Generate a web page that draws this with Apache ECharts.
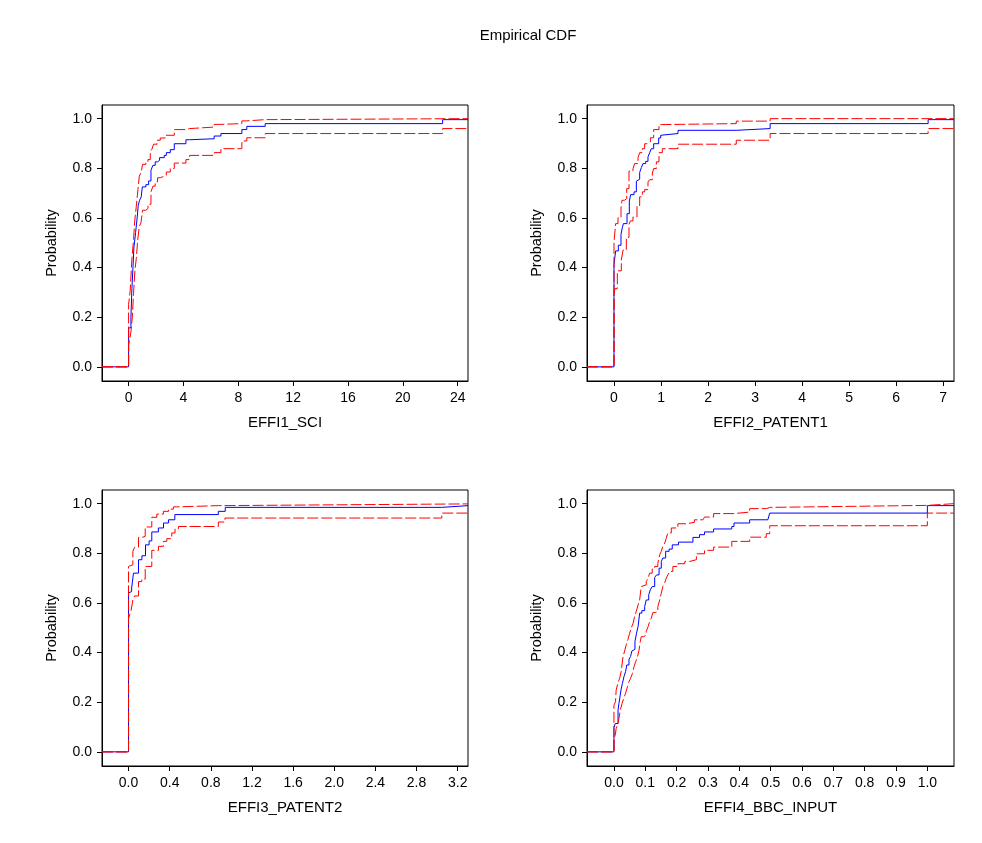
<!DOCTYPE html>
<html><head><meta charset="utf-8">
<script src="https://cdn.jsdelivr.net/npm/echarts@6/dist/echarts.min.js"></script>
<style>html,body{margin:0;padding:0;background:#fff}#c{width:982px;height:843px}</style>
</head><body><div id="c"></div>
<script>
const chartTitle = 'Empirical CDF';
const panelNames = ['EFFI1_SCI', 'EFFI2_PATENT1', 'EFFI3_PATENT2', 'EFFI4_BBC_INPUT'];
const yName = 'Probability';
const yTicks = [0, 0.2, 0.4, 0.6, 0.8, 1.0];
const yRange = [-0.057, 1.055];
const xTicks1 = [0, 4, 8, 12, 16, 20, 24];
const xTicks2 = [0, 1, 2, 3, 4, 5, 6, 7];
const xTicks3 = [0, 0.4, 0.8, 1.2, 1.6, 2.0, 2.4, 2.8, 3.2];
const xTicks4 = [0, 0.1, 0.2, 0.3, 0.4, 0.5, 0.6, 0.7, 0.8, 0.9, 1.0];
const xRange1 = [-1.94, 24.75];
const xRange2 = [-0.574, 7.23];
const xRange3 = [-0.258, 3.30];
const xRange4 = [-0.086, 1.085];

// EFFI1_SCI
const sciCdf = [[-1.94,0],[0,0.157],[0.17,0.2],[0.24,0.315],[0.32,0.403],[0.39,0.483],[0.51,0.541],[0.63,0.604],[0.70,0.65],[0.80,0.671],[0.92,0.685],[1.0,0.725],[1.26,0.734],[1.46,0.749],[1.63,0.792],[1.77,0.812],[1.94,0.826],[2.11,0.832],[2.26,0.843],[2.60,0.852],[2.75,0.863],[3.04,0.875],[3.33,0.899],[4.18,0.915],[4.45,0.919],[6.24,0.93],[6.73,0.94],[8.26,0.956],[8.62,0.969],[9.96,0.98],[22.9,0.996],[24.75,0.996]];
const sciUpper = [[-1.94,0],[0,0.252],[0.12,0.309],[0.24,0.436],[0.36,0.51],[0.44,0.584],[0.56,0.647],[0.68,0.714],[0.78,0.768],[0.92,0.785],[1.02,0.816],[1.26,0.826],[1.41,0.835],[1.58,0.866],[1.70,0.877],[1.82,0.897],[2.07,0.913],[2.31,0.922],[2.67,0.933],[3.33,0.956],[4.18,0.96],[4.45,0.966],[6.24,0.977],[6.73,0.98],[8.26,0.991],[8.62,0.996],[9.96,1.0],[24.75,1.0]];
const sciLower = [[-1.94,0],[0,0.09],[0.07,0.107],[0.17,0.141],[0.27,0.2],[0.36,0.295],[0.46,0.389],[0.56,0.436],[0.66,0.51],[0.78,0.566],[0.90,0.58],[1.02,0.631],[1.26,0.638],[1.41,0.655],[1.63,0.705],[1.77,0.728],[1.94,0.745],[2.11,0.762],[2.31,0.768],[2.60,0.772],[2.75,0.785],[3.04,0.799],[3.33,0.821],[4.18,0.835],[4.45,0.852],[6.24,0.863],[6.73,0.879],[8.26,0.91],[8.62,0.923],[9.96,0.94],[22.9,0.96],[24.75,0.96]];

// EFFI2_PATENT1
const pat1Cdf = [[-0.574,0],[0,0.412],[0.035,0.467],[0.092,0.49],[0.149,0.534],[0.177,0.561],[0.199,0.577],[0.277,0.617],[0.326,0.668],[0.355,0.694],[0.426,0.705],[0.475,0.748],[0.511,0.756],[0.546,0.783],[0.582,0.803],[0.617,0.819],[0.674,0.828],[0.723,0.846],[0.759,0.863],[0.794,0.879],[0.844,0.899],[0.95,0.922],[0.993,0.933],[1.028,0.94],[1.362,0.953],[2.6,0.96],[3.32,0.98],[6.68,0.996],[7.23,0.996]];
const pat1Upper = [[-0.574,0],[0,0.503],[0.035,0.577],[0.085,0.601],[0.149,0.64],[0.17,0.671],[0.22,0.678],[0.27,0.718],[0.319,0.789],[0.404,0.799],[0.44,0.819],[0.511,0.843],[0.546,0.863],[0.603,0.879],[0.652,0.899],[0.723,0.906],[0.773,0.923],[0.844,0.956],[0.957,0.976],[1.007,0.98],[2.6,0.99],[3.32,1.0],[7.23,1.0]];
const pat1Lower = [[-0.574,0],[0,0.295],[0.021,0.315],[0.071,0.387],[0.156,0.43],[0.191,0.47],[0.262,0.521],[0.319,0.574],[0.348,0.588],[0.404,0.604],[0.489,0.647],[0.546,0.685],[0.603,0.705],[0.652,0.714],[0.723,0.745],[0.759,0.754],[0.816,0.781],[0.844,0.799],[0.901,0.826],[0.957,0.863],[1.028,0.879],[1.362,0.897],[2.6,0.913],[3.32,0.94],[6.68,0.96],[7.23,0.96]];

// EFFI3_PATENT2
const pat2Cdf = [[-0.258,0],[0,0.64],[0.016,0.646],[0.03,0.66],[0.048,0.72],[0.097,0.774],[0.13,0.79],[0.165,0.834],[0.2,0.85],[0.226,0.886],[0.29,0.902],[0.34,0.922],[0.388,0.935],[0.45,0.956],[0.873,0.969],[0.94,0.985],[3.045,0.992],[3.30,0.992]];
const pat2Upper = [[-0.258,0],[0,0.747],[0.016,0.754],[0.042,0.808],[0.058,0.824],[0.097,0.864],[0.13,0.868],[0.162,0.906],[0.226,0.945],[0.275,0.958],[0.339,0.969],[0.388,0.978],[0.436,0.987],[0.469,0.992],[0.873,0.999],[3.30,0.999]];
const pat2Lower = [[-0.258,0],[0,0.538],[0.01,0.552],[0.023,0.565],[0.042,0.612],[0.058,0.628],[0.097,0.686],[0.129,0.696],[0.162,0.747],[0.226,0.812],[0.291,0.828],[0.339,0.848],[0.372,0.859],[0.42,0.882],[0.452,0.898],[0.485,0.908],[0.873,0.926],[0.937,0.942],[3.045,0.962],[3.30,0.962]];

// EFFI4_BBC_INPUT
const bbcCdf = [[-0.086,0],[0,0.098],[0.004,0.114],[0.013,0.168],[0.016,0.195],[0.02,0.229],[0.023,0.253],[0.027,0.276],[0.032,0.303],[0.037,0.323],[0.041,0.35],[0.048,0.373],[0.053,0.384],[0.057,0.406],[0.062,0.413],[0.067,0.444],[0.072,0.478],[0.077,0.505],[0.082,0.559],[0.089,0.569],[0.098,0.585],[0.103,0.612],[0.111,0.633],[0.116,0.653],[0.122,0.666],[0.130,0.703],[0.136,0.713],[0.144,0.74],[0.151,0.767],[0.156,0.781],[0.165,0.808],[0.176,0.817],[0.186,0.834],[0.206,0.845],[0.252,0.864],[0.273,0.875],[0.289,0.886],[0.318,0.898],[0.376,0.908],[0.383,0.922],[0.433,0.935],[0.491,0.942],[0.497,0.962],[1.0,0.992],[1.085,0.992]];
const bbcUpper = [[-0.086,0],[0,0.188],[0.005,0.202],[0.007,0.249],[0.013,0.279],[0.018,0.296],[0.023,0.323],[0.029,0.384],[0.034,0.406],[0.039,0.431],[0.045,0.454],[0.05,0.478],[0.055,0.498],[0.061,0.518],[0.066,0.545],[0.071,0.565],[0.077,0.592],[0.082,0.612],[0.087,0.666],[0.093,0.673],[0.103,0.686],[0.109,0.70],[0.114,0.72],[0.122,0.736],[0.130,0.747],[0.140,0.76],[0.146,0.794],[0.151,0.808],[0.156,0.828],[0.162,0.841],[0.167,0.861],[0.172,0.882],[0.183,0.902],[0.204,0.919],[0.231,0.925],[0.257,0.935],[0.284,0.942],[0.289,0.946],[0.318,0.96],[0.383,0.966],[0.433,0.98],[0.486,0.985],[0.499,0.993],[1.0,1.0],[1.085,1.0]];
const bbcLower = [[-0.086,0],[0,0.054],[0.004,0.067],[0.007,0.094],[0.013,0.114],[0.016,0.135],[0.02,0.168],[0.026,0.195],[0.031,0.215],[0.037,0.236],[0.043,0.262],[0.048,0.283],[0.053,0.296],[0.059,0.316],[0.064,0.343],[0.069,0.363],[0.074,0.377],[0.08,0.41],[0.084,0.444],[0.087,0.464],[0.095,0.471],[0.103,0.485],[0.109,0.505],[0.114,0.525],[0.119,0.538],[0.124,0.561],[0.132,0.565],[0.140,0.585],[0.146,0.612],[0.151,0.639],[0.156,0.666],[0.162,0.682],[0.167,0.70],[0.172,0.713],[0.178,0.727],[0.188,0.747],[0.204,0.758],[0.226,0.767],[0.241,0.774],[0.263,0.798],[0.289,0.812],[0.318,0.825],[0.376,0.848],[0.433,0.865],[0.486,0.879],[0.497,0.911],[1.0,0.962],[1.085,0.962]];

const FONT = 'Liberation Sans, Arial, sans-serif';
const panels = [
  {grid:{left:102, top:105, width:366, height:276}, xr:xRange1, ticks:xTicks1, dec:0, name:panelNames[0], cdf:sciCdf, up:sciUpper, lo:sciLower},
  {grid:{left:587, top:105, width:367, height:276}, xr:xRange2, ticks:xTicks2, dec:0, name:panelNames[1], cdf:pat1Cdf, up:pat1Upper, lo:pat1Lower},
  {grid:{left:102, top:490, width:366, height:276}, xr:xRange3, ticks:xTicks3, dec:1, name:panelNames[2], cdf:pat2Cdf, up:pat2Upper, lo:pat2Lower},
  {grid:{left:587, top:490, width:367, height:276}, xr:xRange4, ticks:xTicks4, dec:1, name:panelNames[3], cdf:bbcCdf, up:bbcUpper, lo:bbcLower}
];

const grids = [], xAxes = [], yAxes = [], series = [];
panels.forEach((p, i) => {
  grids.push(Object.assign({show:true, borderColor:'#000', borderWidth:1, backgroundColor:'#fff', containLabel:false}, p.grid));
  xAxes.push({
    type:'value', gridIndex:i, min:p.xr[0], max:p.xr[1],
    name:p.name, nameLocation:'middle', nameGap:34,
    nameTextStyle:{fontFamily:FONT, fontSize:15, color:'#000'},
    axisLine:{show:true, onZero:false, lineStyle:{color:'#000', width:1}},
    axisTick:{show:true, inside:false, length:5, customValues:p.ticks, lineStyle:{color:'#000'}},
    axisLabel:{customValues:p.ticks, margin:10, fontFamily:FONT, fontSize:14, color:'#000',
      formatter:(v)=>Number(v).toFixed(p.dec), showMinLabel:true, showMaxLabel:true},
    splitLine:{show:false}
  });
  yAxes.push({
    type:'value', gridIndex:i, min:yRange[0], max:yRange[1],
    name:yName, nameLocation:'middle', nameGap:43, nameRotate:90,
    nameTextStyle:{fontFamily:FONT, fontSize:14.5, color:'#000'},
    axisLine:{show:true, onZero:false, lineStyle:{color:'#000', width:1}},
    axisTick:{show:true, inside:false, length:5, customValues:yTicks, lineStyle:{color:'#000'}},
    axisLabel:{customValues:yTicks, margin:10, fontFamily:FONT, fontSize:14, color:'#000',
      formatter:(v)=>Number(v).toFixed(1)},
    splitLine:{show:false}
  });
  const base = {type:'line', xAxisIndex:i, yAxisIndex:i, step:'end', showSymbol:false, symbol:'none', clip:true, silent:true};
  series.push(Object.assign({}, base, {data:p.cdf, lineStyle:{color:'#0000ff', width:1}}));
  series.push(Object.assign({}, base, {data:p.up, lineStyle:{color:'#ff0000', width:1, type:[11,3]}}));
  series.push(Object.assign({}, base, {data:p.lo, lineStyle:{color:'#ff0000', width:1, type:[11,3]}}));
});

const chart = echarts.init(document.getElementById('c'), null, {renderer:'canvas'});
chart.setOption({
  animation:false,
  backgroundColor:'#fff',
  title:{text:chartTitle, left:523, top:23, textAlign:'center',
    textStyle:{fontFamily:FONT, fontSize:15, fontWeight:'normal', color:'#000'}},
  grid:grids, xAxis:xAxes, yAxis:yAxes, series:series
});
</script>
</body></html>
